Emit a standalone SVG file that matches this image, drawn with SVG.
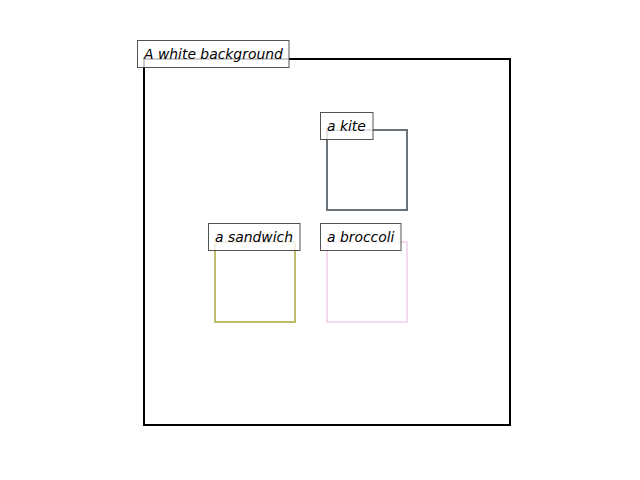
<svg xmlns="http://www.w3.org/2000/svg" width="640" height="480" viewBox="0 0 640 480">
<style>
.box{fill:none;stroke-width:2;stroke-linejoin:miter;stroke-linecap:square}
.lbl{fill:#ffffff;fill-opacity:0.8;stroke:#404040;stroke-opacity:0.9;stroke-width:1}
.t{font-family:"DejaVu Sans",sans-serif;font-style:oblique;font-size:13.9px;fill:#000}
</style>
<rect width="640" height="480" fill="#ffffff"/>
<g id="background">
<rect class="box" x="144" y="59" width="366" height="366" stroke="#000000"/>
</g>
<g id="kite">
<rect class="box" x="327" y="130" width="80" height="80" stroke="#6b7378"/>
</g>
<g id="sandwich">
<rect class="box" x="215" y="242" width="80" height="80" stroke="#bcbe6c"/>
</g>
<g id="broccoli">
<rect class="box" x="327" y="242" width="80" height="80" stroke="#f5dbee"/>
</g>
<g id="labels">
<g id="label-background">
<rect class="lbl" x="137.5" y="40.5" width="151.5" height="27"/>
<text class="t" x="144" y="58.5">A white background</text>
</g>
<g id="label-kite">
<rect class="lbl" x="320.5" y="112.5" width="52.5" height="27"/>
<text class="t" x="327" y="130.5">a kite</text>
</g>
<g id="label-sandwich">
<rect class="lbl" x="208.5" y="223.5" width="91.5" height="27"/>
<text class="t" x="215" y="241.5">a sandwich</text>
</g>
<g id="label-broccoli">
<rect class="lbl" x="320.5" y="223.5" width="80.5" height="27"/>
<text class="t" x="327" y="241.5">a broccoli</text>
</g>
</g>
<g id="connectors"></g>
</svg>
